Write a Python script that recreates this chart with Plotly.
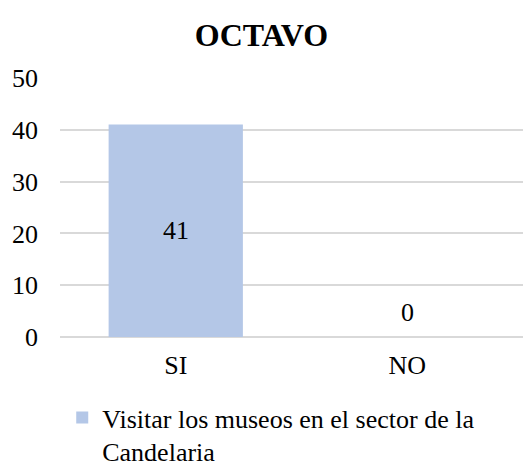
import plotly.graph_objects as go

categories = ["SI", "NO"]
values = [41, 0]
series_name = "Visitar los museos en el sector de la<br>Candelaria"
title = "OCTAVO"

FONT = "Liberation Serif, Times New Roman, Times, serif"

fig = go.Figure()
fig.add_trace(go.Bar(
    x=categories,
    y=values,
    name=series_name,
    marker=dict(color="#b4c7e7", line=dict(width=0)),
    width=0.58,
    showlegend=True,
))

# data labels: centred in the bar, or just above it when the bar is empty
for c, v in zip(categories, values):
    if v > 0:
        fig.add_annotation(x=c, y=v / 2, text=str(v), showarrow=False,
                           font=dict(family=FONT, size=26, color="black"))
    else:
        fig.add_annotation(x=c, y=v, text=str(v), showarrow=False, yshift=25,
                           font=dict(family=FONT, size=26, color="black"))

fig.update_layout(
    width=523,
    height=466,
    margin=dict(l=60, r=0, t=78, b=129, autoexpand=False),
    paper_bgcolor="white",
    plot_bgcolor="white",
    font=dict(family=FONT, size=26, color="black"),
    title=dict(text="<b>" + title + "</b>", x=0.5, xanchor="center",
               y=1 - 35 / 466, yanchor="middle", xref="container",
               font=dict(family=FONT, size=32, color="black")),
    xaxis=dict(showline=False, ticks="", automargin=False,
               tickfont=dict(family=FONT, size=26), ticklabelstandoff=10),
    yaxis=dict(range=[0, 50], dtick=10, showgrid=True, gridcolor="#d9d9d9",
               gridwidth=1.5, zeroline=True, zerolinecolor="#d9d9d9",
               zerolinewidth=1.5, ticks="", automargin=False,
               tickfont=dict(family=FONT, size=26), ticklabelstandoff=21),
    legend=dict(orientation="h", xref="container", yref="container",
                x=0.119, xanchor="left", y=1 - 394 / 466, yanchor="top",
                valign="top", font=dict(family=FONT, size=26),
                itemsizing="constant", tracegroupgap=0),
    bargap=0.42,
)

fig.write_html("out.html",
               config={"displayModeBar": False},
               post_script="document.body.style.margin='0';"
                           "document.body.style.overflow='hidden';")
